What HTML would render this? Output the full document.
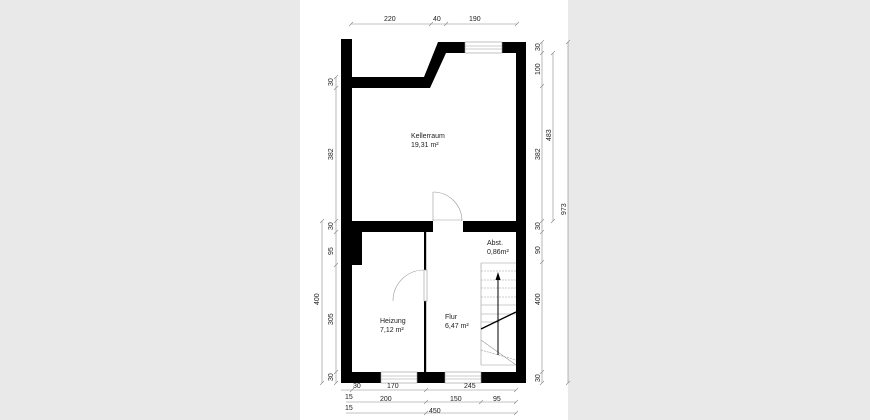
<!DOCTYPE html>
<html><head><style>
html,body{margin:0;padding:0;background:#e9e9e9;}
svg{display:block}
text{font-family:"Liberation Sans",sans-serif;font-size:7px;fill:#222}
.d{stroke:#888;stroke-width:0.6;fill:none}
.l{stroke:#999;stroke-width:0.6;fill:none}
</style></head><body>
<svg width="870" height="420" viewBox="0 0 870 420" xmlns="http://www.w3.org/2000/svg">
<rect x="0" y="0" width="870" height="420" fill="#e9e9e9"/>
<rect x="300" y="0" width="268" height="420" fill="#fff"/>
<g fill="#000">
<rect x="341" y="39" width="11" height="344"/>
<rect x="352" y="77" width="76" height="11"/>
<polygon points="424,77 438,42 446,42 446,53 430,88 424,88"/>
<rect x="438" y="42" width="27" height="11"/>
<rect x="502" y="42" width="24" height="11"/>
<rect x="516" y="42" width="10" height="341"/>
<rect x="352" y="221" width="81" height="11"/>
<rect x="463" y="221" width="53" height="11"/>
<rect x="352" y="232" width="10" height="33"/>
<rect x="424" y="232" width="2.2" height="38"/>
<rect x="424" y="301" width="2.2" height="71"/>
<rect x="341" y="372" width="40" height="11"/>
<rect x="417" y="372" width="28" height="11"/>
<rect x="481" y="372" width="45" height="11"/>
</g>
<!-- windows -->
<g class="l">
<rect x="465" y="42" width="37" height="11"/><line x1="465" y1="46" x2="502" y2="46"/><line x1="465" y1="49" x2="502" y2="49"/>
<rect x="381" y="372" width="36" height="11"/><line x1="381" y1="376" x2="417" y2="376"/><line x1="381" y1="379" x2="417" y2="379"/>
<rect x="445" y="372" width="36" height="11"/><line x1="445" y1="376" x2="481" y2="376"/><line x1="445" y1="379" x2="481" y2="379"/>
<!-- doors -->
<line x1="433" y1="192" x2="433" y2="221"/><path d="M433,192 A29,29 0 0 1 462,221"/><line x1="433" y1="220" x2="462" y2="220"/>
<rect x="424" y="270" width="3" height="31"/><path d="M424,270 A31,31 0 0 0 393,301"/>
<!-- stairs -->
<line x1="481" y1="263" x2="481" y2="365"/>
<line x1="481" y1="263" x2="516" y2="263"/>
<line x1="481" y1="271" x2="516" y2="271" stroke-dasharray="2,1"/>
<line x1="481" y1="280" x2="516" y2="280" stroke-dasharray="2,1"/>
<line x1="481" y1="288" x2="516" y2="288" stroke-dasharray="2,1"/>
<line x1="481" y1="297" x2="516" y2="297" stroke-dasharray="2,1"/>
<line x1="481" y1="305" x2="516" y2="305"/>
<line x1="481" y1="314" x2="516" y2="314"/>
<line x1="481" y1="322" x2="500" y2="322"/>
<line x1="481" y1="340" x2="516" y2="365"/>
<line x1="481" y1="350" x2="516" y2="360" stroke-dasharray="2,1"/>
<line x1="481" y1="365" x2="516" y2="365"/>
</g>
<line x1="481" y1="329" x2="516" y2="312" stroke="#000" stroke-width="1.3"/>
<line x1="498" y1="355" x2="498" y2="279" stroke="#000" stroke-width="1"/>
<polygon points="498,272 495.5,280 500.5,280" fill="#000"/>
<!-- labels -->
<text x="411" y="138">Kellerraum</text><text x="411" y="147">19,31 m²</text>
<text x="487" y="245">Abst.</text><text x="487" y="254">0,86m²</text>
<text x="380" y="323">Heizung</text><text x="380" y="332">7,12 m²</text>
<text x="445" y="319">Flur</text><text x="445" y="328">6,47 m²</text>
<!-- dimension lines -->
<g class="d">
<line x1="351" y1="24" x2="517" y2="24"/>
<line x1="336" y1="77" x2="336" y2="383"/>
<line x1="322" y1="221" x2="322" y2="383"/>
<line x1="542" y1="42" x2="542" y2="383"/>
<line x1="553" y1="53" x2="553" y2="221"/>
<line x1="568" y1="42" x2="568" y2="383"/>
<line x1="341" y1="390" x2="516" y2="390"/>
<line x1="346" y1="402" x2="516" y2="402"/>
<line x1="346" y1="413" x2="516" y2="413"/>
</g>
<g class="d" stroke-width="0.8">
<path d="M349,26l4,-4M429,26l4,-4M444,26l4,-4M515,26l4,-4"/>
<path d="M334,79l4,-4M334,90l4,-4M334,223l4,-4M334,234l4,-4M334,267l4,-4M334,374l4,-4M334,385l4,-4"/>
<path d="M320,223l4,-4M320,385l4,-4"/>
<path d="M540,44l4,-4M540,55l4,-4M540,88l4,-4M540,223l4,-4M540,234l4,-4M540,264l4,-4M540,374l4,-4M540,385l4,-4"/>
<path d="M551,55l4,-4M551,223l4,-4M566,44l4,-4M566,385l4,-4"/>
<path d="M350,392l4,-4M424,392l4,-4M514,392l4,-4M424,404l4,-4M479,404l4,-4M514,404l4,-4M424,415l4,-4M514,415l4,-4"/>
</g>
<text x="384" y="21">220</text><text x="433" y="21">40</text><text x="469" y="21">190</text>
<g>
<text transform="translate(333,86) rotate(-90)">30</text>
<text transform="translate(333,160) rotate(-90)">382</text>
<text transform="translate(333,230) rotate(-90)">30</text>
<text transform="translate(333,255) rotate(-90)">95</text>
<text transform="translate(333,325) rotate(-90)">305</text>
<text transform="translate(333,381) rotate(-90)">30</text>
<text transform="translate(319,305) rotate(-90)">400</text>
<text transform="translate(540,51) rotate(-90)">30</text>
<text transform="translate(540,75) rotate(-90)">100</text>
<text transform="translate(540,160) rotate(-90)">382</text>
<text transform="translate(540,230) rotate(-90)">30</text>
<text transform="translate(540,254) rotate(-90)">90</text>
<text transform="translate(540,305) rotate(-90)">400</text>
<text transform="translate(540,382) rotate(-90)">30</text>
<text transform="translate(551,141) rotate(-90)">483</text>
<text transform="translate(566,215) rotate(-90)">973</text>
</g>
<text x="353" y="388">30</text><text x="387" y="388">170</text><text x="464" y="388">245</text>
<text x="345" y="399">15</text><text x="380" y="401">200</text><text x="450" y="401">150</text><text x="493" y="401">95</text>
<text x="345" y="410">15</text><text x="429" y="413">450</text>
</svg>
</body></html>
